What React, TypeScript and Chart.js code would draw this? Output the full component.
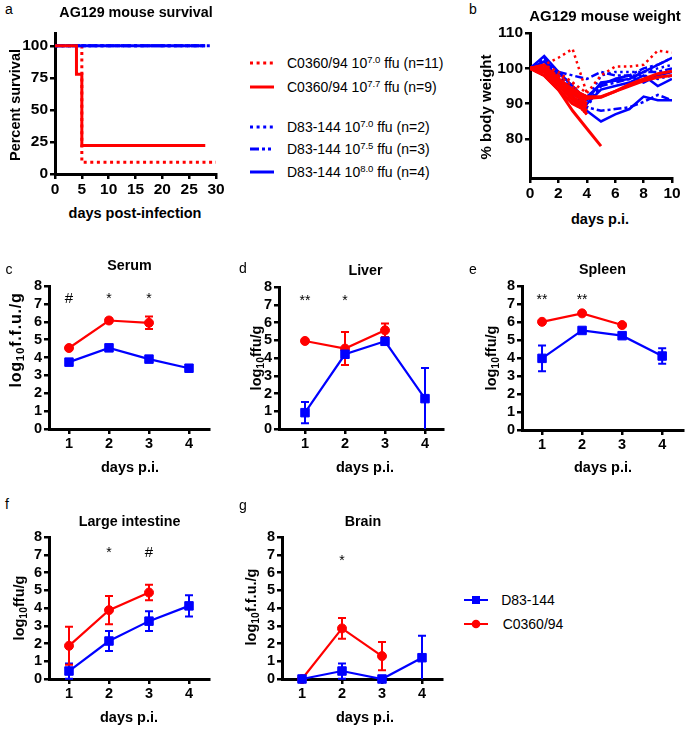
import React, { useEffect, useRef } from 'react';
import { Chart, registerables } from 'chart.js';

Chart.register(...registerables);

const FONT = '"Liberation Sans", Arial, Helvetica, sans-serif';
const BLUE = '#0000ff';
const RED = '#ff0000';

// ---------- Panel a: survival ----------
const survXTicks = [0, 5, 10, 15, 20, 25, 30];
const survYTicks = [0, 25, 50, 75, 100];
const c0360_70Days = [0, 5, 30];
const c0360_70Surv = [100, 9.1, 9.1];
const c0360_77Days = [0, 4, 5, 28];
const c0360_77Surv = [100, 77.8, 22.2, 22.2];
const d83_70Days = [0, 29];
const d83_70Surv = [100, 100];
const d83_75Days = [0, 28];
const d83_75Surv = [100, 100];
const d83_80Days = [0, 28];
const d83_80Surv = [100, 100];

const legendNames = ['C0360/94', 'C0360/94', 'D83-144', 'D83-144', 'D83-144'];
const legendExps = ['7.0', '7.7', '7.0', '7.5', '8.0'];
const legendNs = [11, 9, 2, 3, 4];

// ---------- Panel b: weight ----------
const weightDays = [0, 1, 2, 3, 4, 5, 6, 7, 8, 9, 10];
const weightXTicks = [0, 2, 4, 6, 8, 10];
const weightYTicks = [80, 90, 100, 110];
const c0360_70Weights = [
  [100, 101, 103, 105.5, 93],
  [100, 99, 95, 92, 88],
  [100, 101, 97, 94, 89],
  [100, 100, 96, 91, 87],
  [100, 98, 94, 90, 88],
  [100, 100, 98, 95, 91],
  [100, 99, 96, 93, 90],
  [100, 101, 99, 96, 89],
  [100, 98, 95, 91, 87],
  [100, 99, 97, 94, 92],
  [100, 101, 98, 96, 93, 98, 100.5, 100.5, 101, 105, 104.5],
];
const c0360_77Weights = [
  [100, 98, 94, 88, 83, 78],
  [100, 100, 96, 92, 89],
  [100, 99, 95, 91, 88],
  [100, 101, 97, 93, 90],
  [100, 99, 96, 92, 87],
  [100, 100, 97, 94, 91],
  [100, 98, 94, 90, 88],
  [100, 99, 96, 93, 91.5, 91.8, 93.5, 95.5, 97, 98.5, 99.2],
  [100, 100, 97, 94, 92, 92, 93.5, 95, 96.5, 97.5, 98],
];
const d83_70Weights = [
  [100, 103, 99, 95, 91, 98, 99, 99, 99, 100, 101],
  [100, 102, 98, 94, 89, 95, 97, 98, 98, 97, 98],
];
const d83_75Weights = [
  [100, 102, 99, 98, 97, 99, 98, 98, 100, 101, 103],
  [100, 101, 97, 93, 89, 88, 88.5, 89, 90.5, 92.5, 91],
  [100, 103, 98, 94, 90, 95, 96, 97, 99, 99, 100],
];
const d83_80Weights = [
  [100, 101, 96, 92, 88, 85, 87, 88.5, 92, 91, 91],
  [100, 103.5, 99, 95, 91, 96, 96.5, 97, 99, 101, 103],
  [100, 102, 97, 93, 90, 94, 95, 96, 98, 95, 97],
  [100, 100, 97, 94, 92, 95.5, 97, 98, 96, 98, 99],
];

// ---------- Panels c-g: organ titres ----------
const organDays = [1, 2, 3, 4];
const organXTicks = [1, 2, 3, 4];
const organYTicks = [0, 1, 2, 3, 4, 5, 6, 7, 8];

const serumD83 = [3.74, 4.54, 3.91, 3.4];
const serumD83Sem = [0.1, 0.1, 0.1, 0.1];
const serumC0360 = [4.53, 6.07, 5.94];
const serumC0360Sem = [0.1, 0.1, 0.35];
const serumSigDays = [1, 2, 3];
const serumSigText = ['#', '*', '*'];

const liverD83 = [0.92, 4.21, 4.94, 1.71];
const liverD83Sem = [0.6, 0.15, 0.15, 1.73];
const liverC0360 = [4.96, 4.53, 5.56];
const liverC0360Sem = [0.08, 0.93, 0.38];
const liverSigDays = [1, 2];
const liverSigText = ['**', '*'];

const spleenD83 = [3.98, 5.53, 5.24, 4.11];
const spleenD83Sem = [0.72, 0.08, 0.1, 0.43];
const spleenC0360 = [6.01, 6.48, 5.83];
const spleenC0360Sem = [0.06, 0.06, 0.08];
const spleenSigDays = [1, 2];
const spleenSigText = ['**', '**'];

const intestineD83 = [0.45, 2.14, 3.26, 4.12];
const intestineD83Sem = [0.43, 0.56, 0.55, 0.6];
const intestineC0360 = [1.87, 3.88, 4.87];
const intestineC0360Sem = [1.07, 0.8, 0.44];
const intestineSigDays = [2, 3];
const intestineSigText = ['*', '#'];

const brainD83 = [0, 0.45, 0, 1.2];
const brainD83Sem = [0, 0.43, 0, 1.23];
const brainC0360 = [0, 2.85, 1.29];
const brainC0360Sem = [0, 0.58, 0.79];
const brainSigDays = [2];
const brainSigText = ['*'];

// ---------- helpers ----------
type Plot = { x0: number; y0: number; x1: number; y1: number };

function boxFor(p: Plot) {
  const left = p.x0 - 60;
  const top = p.y0 - 14;
  return { left, top, width: p.x1 + 16 - left, height: p.y1 + 30 - top };
}

const errorBarPlugin = {
  id: 'errorBars',
  beforeDatasetsDraw(chart: any) {
    const { ctx } = chart;
    const xs = chart.scales.x;
    const ys = chart.scales.y;
    chart.data.datasets.forEach((ds: any) => {
      if (!ds.sem) return;
      ctx.save();
      ctx.strokeStyle = ds.borderColor;
      ctx.lineWidth = 2;
      ds.data.forEach((p: any, j: number) => {
        const s = ds.sem[j];
        if (!s) return;
        const px = xs.getPixelForValue(p.x);
        const lowV = p.y - s;
        const top = ys.getPixelForValue(p.y + s);
        const bot = ys.getPixelForValue(Math.max(0, lowV));
        ctx.beginPath();
        ctx.moveTo(px, top);
        ctx.lineTo(px, bot);
        ctx.moveTo(px - 4, top);
        ctx.lineTo(px + 4, top);
        if (lowV > 0) {
          ctx.moveTo(px - 4, bot);
          ctx.lineTo(px + 4, bot);
        }
        ctx.stroke();
      });
      ctx.restore();
    });
  },
};

function sigPlugin(days: number[], texts: string[], at: number) {
  return {
    id: 'sigMarks',
    afterDraw(chart: any) {
      const { ctx } = chart;
      const xs = chart.scales.x;
      const ys = chart.scales.y;
      ctx.save();
      ctx.fillStyle = '#000';
      ctx.textAlign = 'center';
      ctx.textBaseline = 'alphabetic';
      days.forEach((d, i) => {
        const t = texts[i];
        ctx.font = `${t === '#' ? 15 : 14}px ${FONT}`;
        ctx.fillText(t, xs.getPixelForValue(d), ys.getPixelForValue(at));
      });
      ctx.restore();
    },
  };
}

function axis(min: number, max: number, ticks: number[], size: number, pad: number, fit: (s: any) => void) {
  return {
    type: 'linear',
    min,
    max,
    afterBuildTicks: (s: any) => {
      s.ticks = ticks.map((v) => ({ value: v }));
    },
    afterFit: fit,
    grid: { display: true, drawOnChartArea: false, drawTicks: true, tickLength: 5, color: '#000', lineWidth: 2.5 },
    border: { display: true, color: '#000', width: 3 },
    ticks: {
      color: '#000',
      font: { family: FONT, size, weight: 'bold' },
      padding: pad,
      autoSkip: false,
      maxRotation: 0,
      minRotation: 0,
    },
  };
}

function makeConfig(plot: Plot, xr: [number, number, number[]], yr: [number, number, number[]], size: number, datasets: any[], plugins: any[]) {
  const b = boxFor(plot);
  return {
    type: 'line',
    data: { datasets },
    plugins,
    options: {
      responsive: false,
      maintainAspectRatio: false,
      animation: false,
      events: [],
      layout: { padding: { top: plot.y0 - b.top, right: b.left + b.width - plot.x1, left: 0, bottom: 0 } },
      plugins: { legend: { display: false }, tooltip: { enabled: false }, title: { display: false } },
      scales: {
        x: axis(xr[0], xr[1], xr[2], size, 1, (s: any) => {
          s.height = b.top + b.height - plot.y1;
        }),
        y: axis(yr[0], yr[1], yr[2], size, 2, (s: any) => {
          s.width = plot.x0 - b.left;
        }),
      },
    },
  };
}

const pts = (xs: number[], ys: number[]) => ys.map((y, i) => ({ x: xs[i], y }));

function survLine(days: number[], vals: number[], color: string, dash: number[]) {
  return {
    data: pts(days, vals),
    stepped: 'before',
    borderColor: color,
    backgroundColor: color,
    borderWidth: 3,
    borderDash: dash,
    borderCapStyle: 'butt',
    pointRadius: 0,
    fill: false,
  };
}

function weightLines(sets: number[][], color: string, dash: number[], width: number) {
  return sets.map((v) => ({
    data: pts(weightDays, v),
    borderColor: color,
    backgroundColor: color,
    borderWidth: width,
    borderDash: dash,
    borderCapStyle: 'butt',
    pointRadius: 0,
    tension: 0,
    fill: false,
  }));
}

function organSets(blue: number[], blueSem: number[], red: number[], redSem: number[]) {
  return [
    {
      label: 'D83-144',
      data: pts(organDays, blue),
      sem: blueSem,
      borderColor: BLUE,
      backgroundColor: BLUE,
      borderWidth: 2.2,
      pointStyle: 'rect',
      pointRadius: 6,
      pointBorderWidth: 1,
      clip: false,
    },
    {
      label: 'C0360/94',
      data: pts(organDays, red),
      sem: redSem,
      borderColor: RED,
      backgroundColor: RED,
      borderWidth: 2.2,
      pointStyle: 'circle',
      pointRadius: 4.5,
      pointBorderWidth: 1,
      clip: false,
    },
  ];
}

const DOT = [3, 3.6];
const DASHDOT = [8, 3, 3, 3];

const PLOTS: Plot[] = [
  { x0: 55, y0: 33, x1: 216, y1: 174 }, // a
  { x0: 530, y0: 33, x1: 672, y1: 178 }, // b
  { x0: 49, y0: 286, x1: 209, y1: 429 }, // c
  { x0: 279, y0: 286.5, x1: 443, y1: 429 }, // d
  { x0: 522, y0: 286, x1: 683, y1: 430 }, // e
  { x0: 49, y0: 537, x1: 209, y1: 679 }, // f
  { x0: 282, y0: 537, x1: 442, y1: 679 }, // g
];

function buildConfigs() {
  const oy: [number, number, number[]] = [0, 8, organYTicks];
  return [
    makeConfig(PLOTS[0], [0, 30, survXTicks], [0, 110, survYTicks], 15.5, [
      survLine(c0360_77Days, c0360_77Surv, RED, []),
      survLine(d83_80Days, d83_80Surv, BLUE, []),
      survLine(d83_75Days, d83_75Surv, BLUE, DASHDOT),
      survLine(d83_70Days, d83_70Surv, BLUE, DOT),
      survLine(c0360_70Days, c0360_70Surv, RED, DOT),
    ], []),
    makeConfig(PLOTS[1], [0, 10, weightXTicks], [69, 110, weightYTicks], 15.5, [
      ...weightLines(c0360_77Weights, RED, [], 3),
      ...weightLines(c0360_70Weights, RED, [2.5, 3.5], 2.5),
      ...weightLines(d83_80Weights, BLUE, [], 2.5),
      ...weightLines(d83_75Weights, BLUE, DASHDOT, 2.5),
      ...weightLines(d83_70Weights, BLUE, [2.5, 3.5], 2.5),
    ], []),
    makeConfig(PLOTS[2], [0.5, 4.5, organXTicks], oy, 14.5,
      organSets(serumD83, serumD83Sem, serumC0360, serumC0360Sem),
      [errorBarPlugin, sigPlugin(serumSigDays, serumSigText, 7.05)]),
    makeConfig(PLOTS[3], [0.35, 4.45, organXTicks], oy, 14.5,
      organSets(liverD83, liverD83Sem, liverC0360, liverC0360Sem),
      [errorBarPlugin, sigPlugin(liverSigDays, liverSigText, 7.0)]),
    makeConfig(PLOTS[4], [0.5, 4.52, organXTicks], oy, 14.5,
      organSets(spleenD83, spleenD83Sem, spleenC0360, spleenC0360Sem),
      [errorBarPlugin, sigPlugin(spleenSigDays, spleenSigText, 7.0)]),
    makeConfig(PLOTS[5], [0.5, 4.5, organXTicks], oy, 14.5,
      organSets(intestineD83, intestineD83Sem, intestineC0360, intestineC0360Sem),
      [errorBarPlugin, sigPlugin(intestineSigDays, intestineSigText, 6.88)]),
    makeConfig(PLOTS[6], [0.5, 4.5, organXTicks], oy, 14.5,
      organSets(brainD83, brainD83Sem, brainC0360, brainC0360Sem),
      [errorBarPlugin, sigPlugin(brainSigDays, brainSigText, 6.4)]),
  ];
}

function Txt(props: { x: number; y: number; size?: number; bold?: boolean; rotate?: boolean; spacing?: number; children: any }) {
  const { x, y, size = 14, bold = false, rotate = false, spacing = 0, children } = props;
  return (
    <div
      style={{
        position: 'absolute',
        left: x,
        top: y,
        transform: `translate(-50%, -50%)${rotate ? ' rotate(-90deg)' : ''}`,
        fontSize: size,
        fontWeight: bold ? 700 : 400,
        lineHeight: 1,
        letterSpacing: spacing,
        whiteSpace: 'nowrap',
        color: '#000',
      }}
    >
      {children}
    </div>
  );
}

const Sub = (p: { children: any }) => (
  <span style={{ fontSize: '0.72em', position: 'relative', top: '0.3em' }}>{p.children}</span>
);
const Sup = (p: { children: any }) => (
  <span style={{ fontSize: '0.68em', position: 'relative', top: '-0.5em' }}>{p.children}</span>
);

const legendColors = [RED, RED, BLUE, BLUE, BLUE];
const legendDash = ['3 3.6', '', '3 3.6', '9 3 3 3 3 3', ''];
const legendY = [63, 87, 127, 149, 172];

export default function App() {
  const refs = useRef<(HTMLCanvasElement | null)[]>([]);

  useEffect(() => {
    const configs = buildConfigs();
    const charts: Chart[] = [];
    configs.forEach((cfg, i) => {
      const el = refs.current[i];
      if (el) charts.push(new Chart(el, cfg as any));
    });
    return () => charts.forEach((c) => c.destroy());
  }, []);

  return (
    <div
      style={{
        position: 'fixed',
        left: 0,
        top: 0,
        width: 685,
        height: 729,
        overflow: 'hidden',
        background: '#fff',
        fontFamily: FONT,
      }}
    >
      {PLOTS.map((p, i) => {
        const b = boxFor(p);
        return (
          <canvas
            key={i}
            ref={(el) => {
              refs.current[i] = el;
            }}
            width={b.width}
            height={b.height}
            style={{ position: 'absolute', left: b.left, top: b.top, width: b.width, height: b.height }}
          />
        );
      })}

      {/* panel letters */}
      <Txt x={9} y={9}>a</Txt>
      <Txt x={473} y={9}>b</Txt>
      <Txt x={9} y={269}>c</Txt>
      <Txt x={243} y={268}>d</Txt>
      <Txt x={473} y={269}>e</Txt>
      <Txt x={7} y={504}>f</Txt>
      <Txt x={243} y={505}>g</Txt>

      {/* titles */}
      <Txt x={136} y={12} size={14.3} bold>AG129 mouse survival</Txt>
      <Txt x={605} y={14.5} size={15} bold>AG129 mouse weight</Txt>
      <Txt x={129.5} y={265} size={14.3} bold>Serum</Txt>
      <Txt x={365.5} y={270} size={14.3} bold>Liver</Txt>
      <Txt x={602.5} y={269} size={14.3} bold>Spleen</Txt>
      <Txt x={129.5} y={520.5} size={14.3} bold>Large intestine</Txt>
      <Txt x={363} y={520.5} size={14.3} bold>Brain</Txt>

      {/* x titles */}
      <Txt x={135} y={213} size={14.5} bold>days post-infection</Txt>
      <Txt x={600} y={219} size={14.5} bold>days p.i.</Txt>
      <Txt x={130} y={467} size={14.5} bold>days p.i.</Txt>
      <Txt x={365} y={467} size={14.5} bold>days p.i.</Txt>
      <Txt x={603} y={467} size={14.5} bold>days p.i.</Txt>
      <Txt x={129} y={717} size={14.5} bold>days p.i.</Txt>
      <Txt x={365} y={717} size={14.5} bold>days p.i.</Txt>

      {/* y titles */}
      <Txt x={15} y={105} size={14.5} bold rotate>Percent survival</Txt>
      <Txt x={485} y={107} size={15} bold rotate>% body weight</Txt>
      <Txt x={16} y={340} size={16} bold rotate spacing={0.8}>log<Sub>10</Sub>f.f.u./g</Txt>
      <Txt x={256} y={358} size={14.5} bold rotate>log<Sub>10</Sub>ffu/g</Txt>
      <Txt x={491} y={358} size={14.5} bold rotate>log<Sub>10</Sub>ffu/g</Txt>
      <Txt x={19} y={608} size={14.5} bold rotate>log<Sub>10</Sub>ffu/g</Txt>
      <Txt x={251} y={607} size={14.5} bold rotate>log<Sub>10</Sub>f.f.u./g</Txt>

      {/* legend a */}
      {legendNames.map((name, i) => (
        <div key={i}>
          <svg
            width={24}
            height={6}
            style={{ position: 'absolute', left: 250, top: legendY[i] - 3 }}
          >
            <line
              x1={0}
              y1={3}
              x2={24}
              y2={3}
              stroke={legendColors[i]}
              strokeWidth={3}
              strokeDasharray={legendDash[i] || undefined}
            />
          </svg>
          <div
            style={{
              position: 'absolute',
              left: 287,
              top: legendY[i],
              transform: 'translateY(-50%)',
              fontSize: 14,
              lineHeight: 1,
              whiteSpace: 'nowrap',
              color: '#000',
            }}
          >
            {name} 10<Sup>{legendExps[i]}</Sup> ffu (n={legendNs[i]})
          </div>
        </div>
      ))}

      {/* legend bottom */}
      <svg width={30} height={14} style={{ position: 'absolute', left: 462, top: 593 }}>
        <line x1={2} y1={7} x2={26} y2={7} stroke={BLUE} strokeWidth={2} />
        <rect x={10} y={3} width={8} height={8} fill={BLUE} />
      </svg>
      <svg width={30} height={14} style={{ position: 'absolute', left: 462, top: 617 }}>
        <line x1={2} y1={7} x2={26} y2={7} stroke={RED} strokeWidth={2} />
        <circle cx={14} cy={7} r={4.3} fill={RED} />
      </svg>
      <Txt x={528} y={600} size={14}>D83-144</Txt>
      <Txt x={533} y={624} size={14}>C0360/94</Txt>
    </div>
  );
}
